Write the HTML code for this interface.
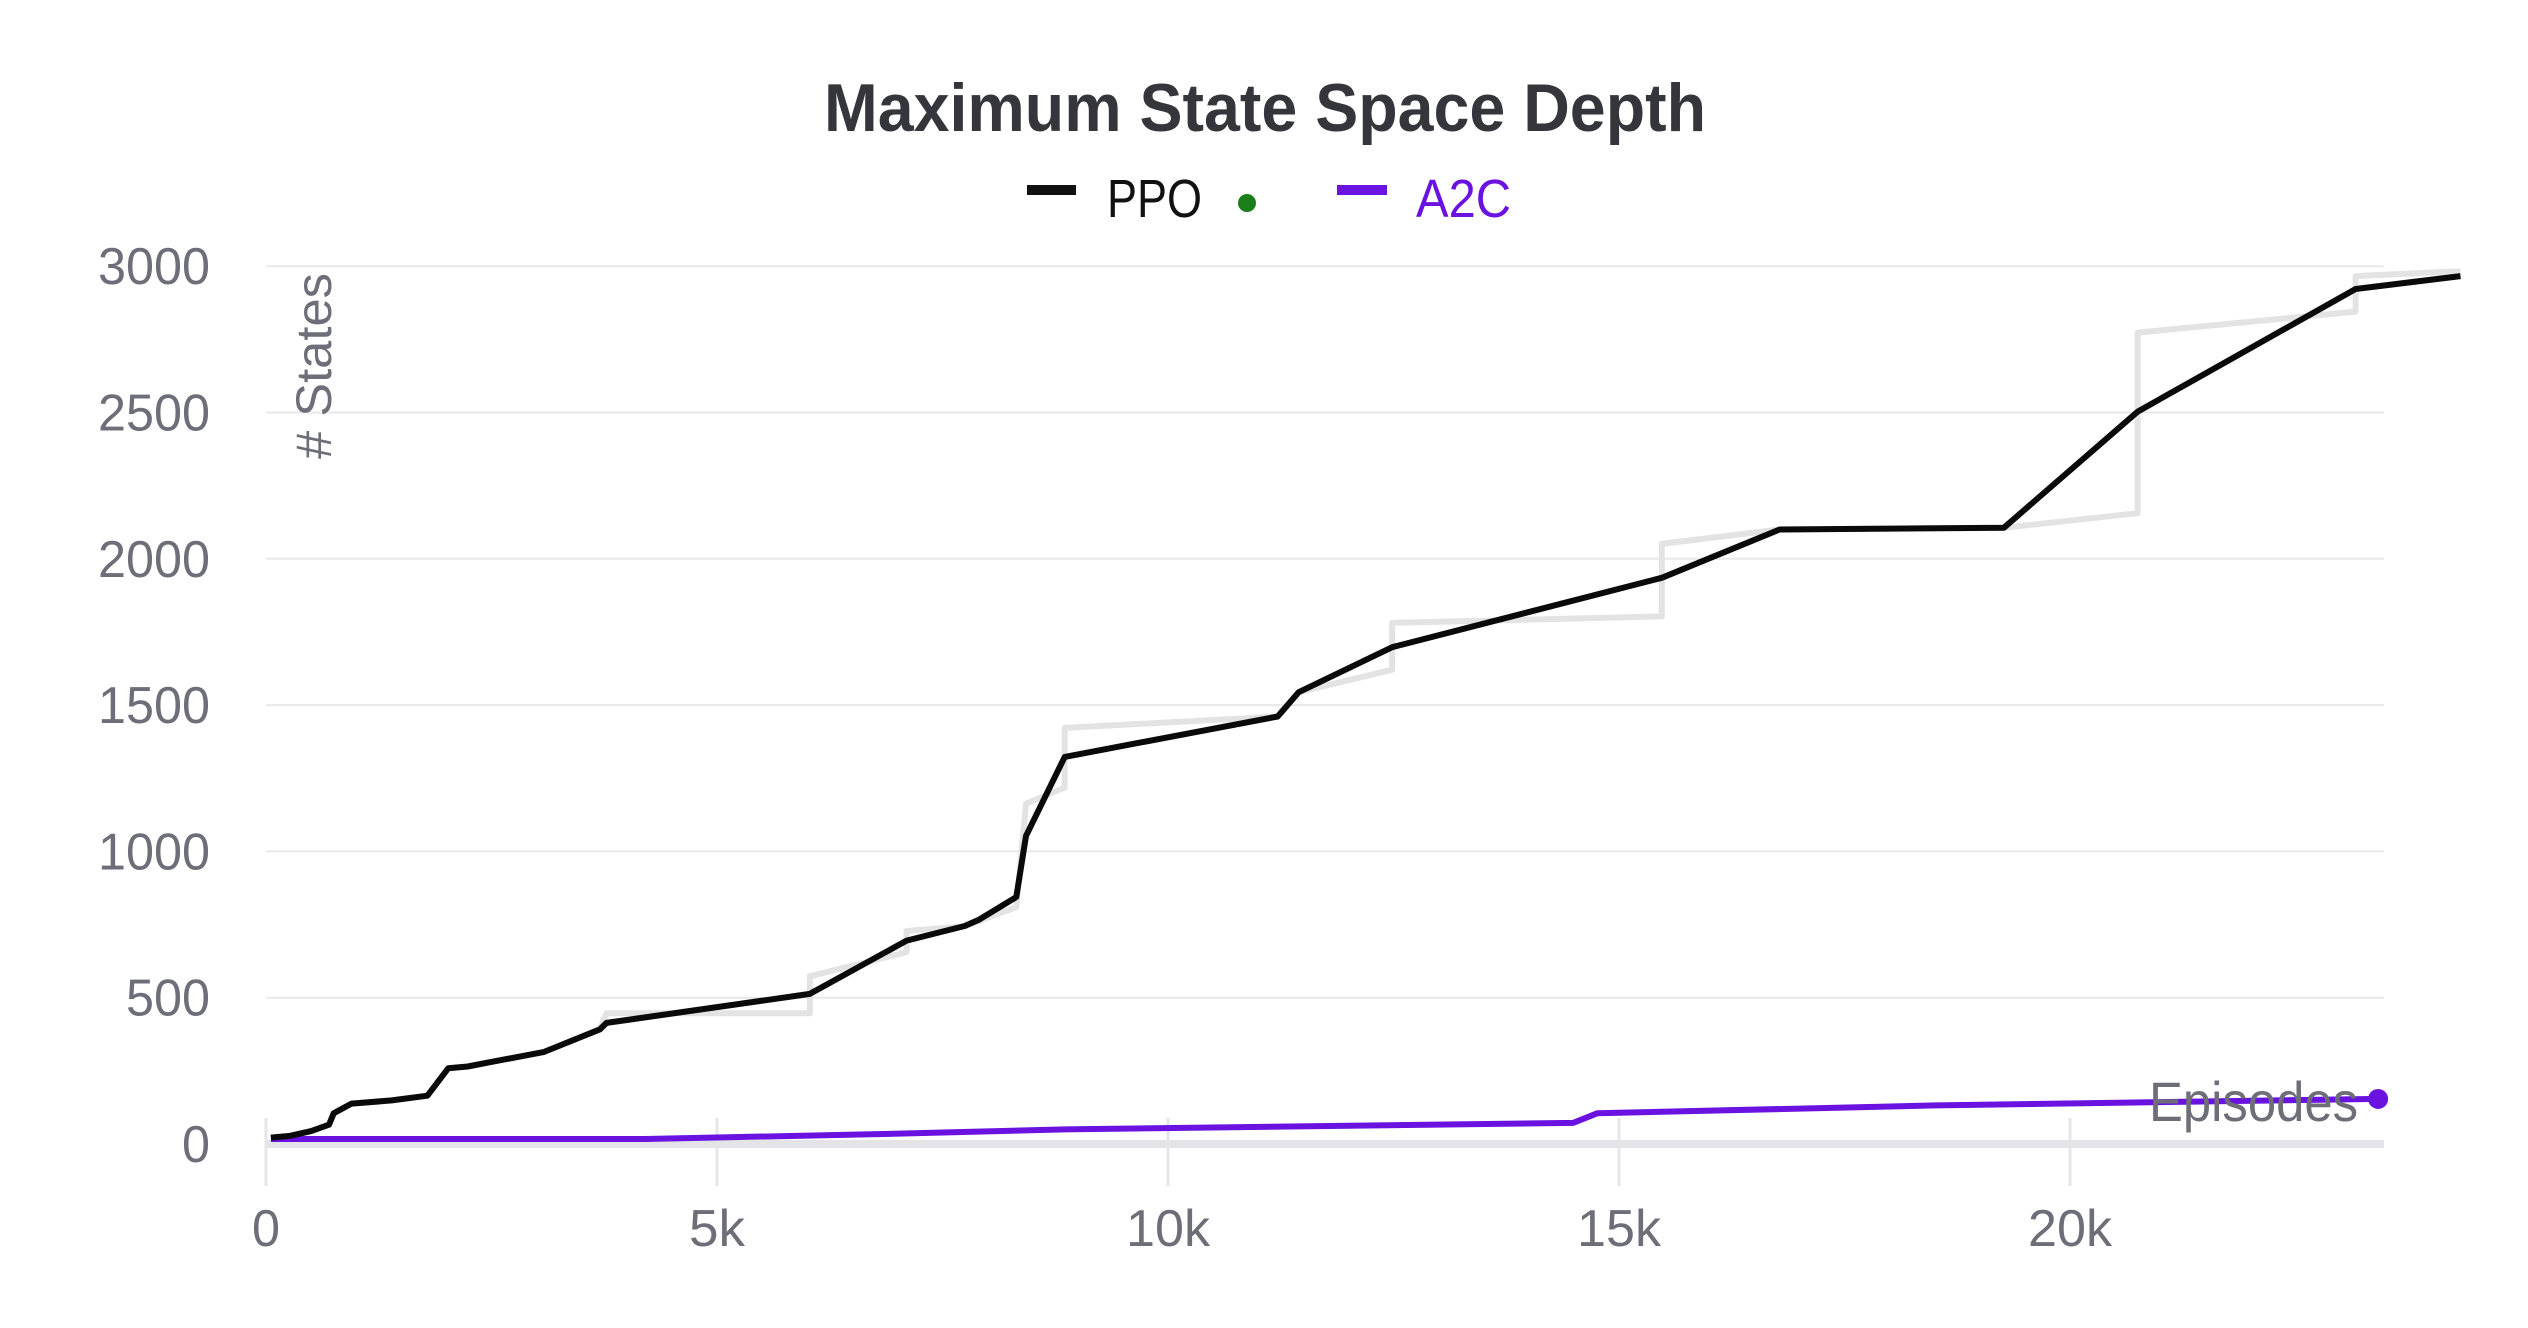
<!DOCTYPE html>
<html><head><meta charset="utf-8"><style>
html,body{margin:0;padding:0;background:#fff}
svg{display:block;font-family:"Liberation Sans",sans-serif}
</style></head><body>
<svg id="chart" width="2528" height="1328" viewBox="0 0 2528 1328" xmlns="http://www.w3.org/2000/svg">
<text x="1265" y="131" text-anchor="middle" font-size="68" font-weight="bold" fill="#35363b" textLength="882" lengthAdjust="spacingAndGlyphs">Maximum State Space Depth</text>
<g>
<line x1="1027" y1="190" x2="1076" y2="190" stroke="#111" stroke-width="10"/>
<text x="1107" y="217" font-size="54" fill="#111" textLength="95" lengthAdjust="spacingAndGlyphs">PPO</text>
<circle cx="1247" cy="203" r="9" fill="#1a7f1a"/>
<line x1="1337" y1="190" x2="1387" y2="190" stroke="#6a12e0" stroke-width="10"/>
<text x="1416" y="217" font-size="54" fill="#6a12e0" textLength="95" lengthAdjust="spacingAndGlyphs">A2C</text>
</g>
<g id="grid"></g>
<g id="series"></g>
<text transform="translate(331,366) rotate(-90)" text-anchor="middle" font-size="50" fill="#6e6e78" textLength="186" lengthAdjust="spacingAndGlyphs"># States</text>
<text x="2149" y="1121" font-size="56" fill="#6e6e78" textLength="209" lengthAdjust="spacingAndGlyphs">Episodes</text>
</svg>
<script>
const yTicks=[0,500,1000,1500,2000,2500,3000];
const xTicks=[0,5000,10000,15000,20000];
const xTickLabels=["0","5k","10k","15k","20k"];
const ppoX=[54,268,501,698,751,948,1395,1789,2021,2236,2504,3077,3703,3775,6029,7102,7746,7907,8318,8426,8855,11216,11449,12486,15474,16780,19266,20751,23166,24329];
const ppoY=[22,28,44,66,105,138,149,165,259,265,281,314,392,414,513,695,745,767,844,1053,1323,1461,1544,1698,1935,2100,2106,2503,2922,2966];
const rawX=[54,268,501,698,751,948,1395,1789,2021,2236,2504,3077,3703,3775,6029,6029,7102,7102,7746,8318,8426,8855,8855,11216,11449,12486,12486,15474,15474,16780,19266,20751,20751,23166,23166,24329];
const rawY=[22,28,44,66,105,138,149,165,259,265,281,314,392,447,447,573,656,728,744,810,1163,1218,1422,1461,1544,1621,1781,1803,2051,2100,2106,2156,2773,2845,2966,2983];
const a2cX=[54,4204,6708,8855,14490,14758,18515,23416];
const a2cY=[17,17,33,50,72,105,132,154];
const X0=266,XPER=451/5000,Y0=1144,YPER=146.3/500,XR=2384;
const sx=v=>X0+v*XPER, sy=v=>Y0-v*YPER;
const NS="http://www.w3.org/2000/svg";
function mk(tag,attrs,parent){const e=document.createElementNS(NS,tag);for(const k in attrs)e.setAttribute(k,attrs[k]);parent.appendChild(e);return e;}
const grid=document.getElementById('grid');
yTicks.forEach(t=>{
  if(t>0){const l=mk('line',{x1:X0,x2:XR,y1:sy(t),y2:sy(t),stroke:'#e8e8ea','stroke-width':2},grid);
  
  }
  const s=String(t);
  const tx=mk('text',{x:210,y:sy(t)+18,'text-anchor':'end','font-size':52,fill:'#6e6e78',textLength:s.length*28,lengthAdjust:'spacingAndGlyphs'},grid);
  tx.textContent=s;
  
  
});
xTicks.forEach((t,i)=>{
  const l=mk('line',{x1:sx(t),x2:sx(t),y1:1118,y2:1186,stroke:'#e6e6e8','stroke-width':3},grid);
  
  
  const s=xTickLabels[i];
  const tx=mk('text',{x:sx(t),y:1246,'text-anchor':'middle','font-size':52,fill:'#6e6e78',textLength:s.length*28,lengthAdjust:'spacingAndGlyphs'},grid);
  tx.textContent=s;
  
  
});
const base=mk('line',{x1:X0,x2:XR,y1:Y0,y2:Y0,stroke:'#e4e4e6','stroke-width':8},grid);


const ser=document.getElementById('series');
function pts(xs,ys){return xs.map((x,i)=>sx(x).toFixed(1)+','+sy(ys[i]).toFixed(1)).join(' ');}
const raw=mk('polyline',{points:pts(rawX,rawY),fill:'none',stroke:'#e3e3e3','stroke-width':6,'stroke-linejoin':'round'},ser);


const a2c=mk('polyline',{points:pts(a2cX,a2cY),fill:'none',stroke:'#6a12e0','stroke-width':6,'stroke-linejoin':'round'},ser);


const ppo=mk('polyline',{points:pts(ppoX,ppoY),fill:'none',stroke:'#0a0a0a','stroke-width':6,'stroke-linejoin':'round'},ser);


const n=a2cX.length-1;
const dot=mk('circle',{cx:sx(a2cX[n]),cy:sy(a2cY[n]),r:10,fill:'#6a12e0'},ser);


</script>
</body></html>
